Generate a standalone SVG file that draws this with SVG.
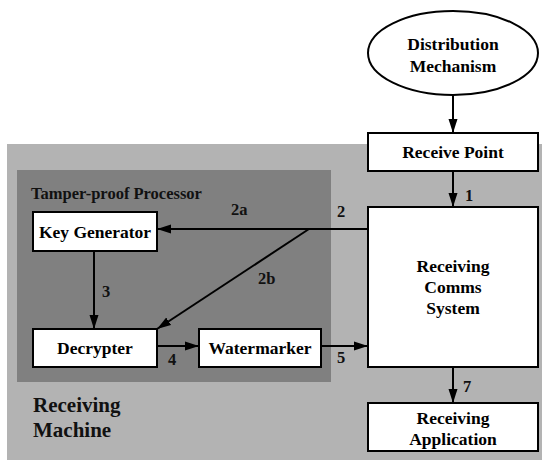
<svg xmlns="http://www.w3.org/2000/svg" width="542" height="461" viewBox="0 0 542 461">
<defs>
<style>
.box{fill:#fff;stroke:#000;stroke-width:2}
text{font-family:"Liberation Serif","Tinos","Times New Roman","DejaVu Serif",serif;font-weight:bold}
.t{font-size:17.5px;fill:#000;text-anchor:middle}
.lbl{font-size:16.5px;fill:#111}
.big{font-size:21px;fill:#111}
.c{stroke:#000;stroke-width:2;fill:none;marker-end:url(#ah)}
</style>
<marker id="ah" markerUnits="userSpaceOnUse" markerWidth="14" markerHeight="10" refX="14" refY="5" orient="auto">
<path d="M0,0.5 L14,5 L0,9.5 z" fill="#000"/>
</marker>
</defs>
<rect width="542" height="461" fill="#fff"/>
<g id="receiving-machine">
<rect x="7" y="144" width="535" height="316" fill="#b3b3b3"/>
<text class="big" x="33" y="412">Receiving</text>
<text class="big" x="33" y="437">Machine</text>
</g>
<g id="tamper-proof-processor">
<rect x="17" y="170" width="314" height="212" fill="#808080"/>
<text class="lbl" x="31" y="199">Tamper-proof Processor</text>
</g>
<g id="distribution-mechanism">
<ellipse cx="453" cy="53" rx="85" ry="42" fill="#fff" stroke="#000" stroke-width="2"/>
<text class="t" x="453" y="50">Distribution</text>
<text class="t" x="453" y="72">Mechanism</text>
</g>
<g id="receive-point">
<rect class="box" x="368" y="133" width="170" height="38"/>
<text class="t" x="453" y="158">Receive Point</text>
</g>
<g id="receiving-comms-system">
<rect class="box" x="368" y="207" width="170" height="160"/>
<text class="t" x="453" y="272">Receiving</text>
<text class="t" x="453" y="293">Comms</text>
<text class="t" x="453" y="314">System</text>
</g>
<g id="receiving-application">
<rect class="box" x="368" y="403" width="170" height="48"/>
<text class="t" x="453" y="424">Receiving</text>
<text class="t" x="453" y="445">Application</text>
</g>
<g id="key-generator">
<rect class="box" x="33" y="212" width="124" height="39"/>
<text class="t" x="95" y="238">Key Generator</text>
</g>
<g id="decrypter">
<rect class="box" x="33" y="329" width="124" height="38"/>
<text class="t" x="95" y="354">Decrypter</text>
</g>
<g id="watermarker">
<rect class="box" x="199" y="329" width="122" height="38"/>
<text class="t" x="260" y="354">Watermarker</text>
</g>
<g id="connectors">
<line class="c" x1="453" y1="95" x2="453" y2="133"/>
<line class="c" x1="453" y1="171" x2="453" y2="207"/>
<line class="c" x1="368" y1="229" x2="157" y2="229"/>
<line class="c" x1="309" y1="229" x2="157" y2="329"/>
<line class="c" x1="94" y1="251" x2="94" y2="329"/>
<line class="c" x1="157" y1="346" x2="199" y2="346"/>
<line class="c" x1="321" y1="346" x2="368" y2="346"/>
<line class="c" x1="453" y1="367" x2="453" y2="403"/>
<text class="lbl" x="465" y="201">1</text>
<text class="lbl" x="337" y="217">2</text>
<text class="lbl" x="231" y="215">2a</text>
<text class="lbl" x="258" y="284">2b</text>
<text class="lbl" x="102" y="297">3</text>
<text class="lbl" x="168" y="365">4</text>
<text class="lbl" x="337" y="363">5</text>
<text class="lbl" x="463" y="392">7</text>
</g>
</svg>
